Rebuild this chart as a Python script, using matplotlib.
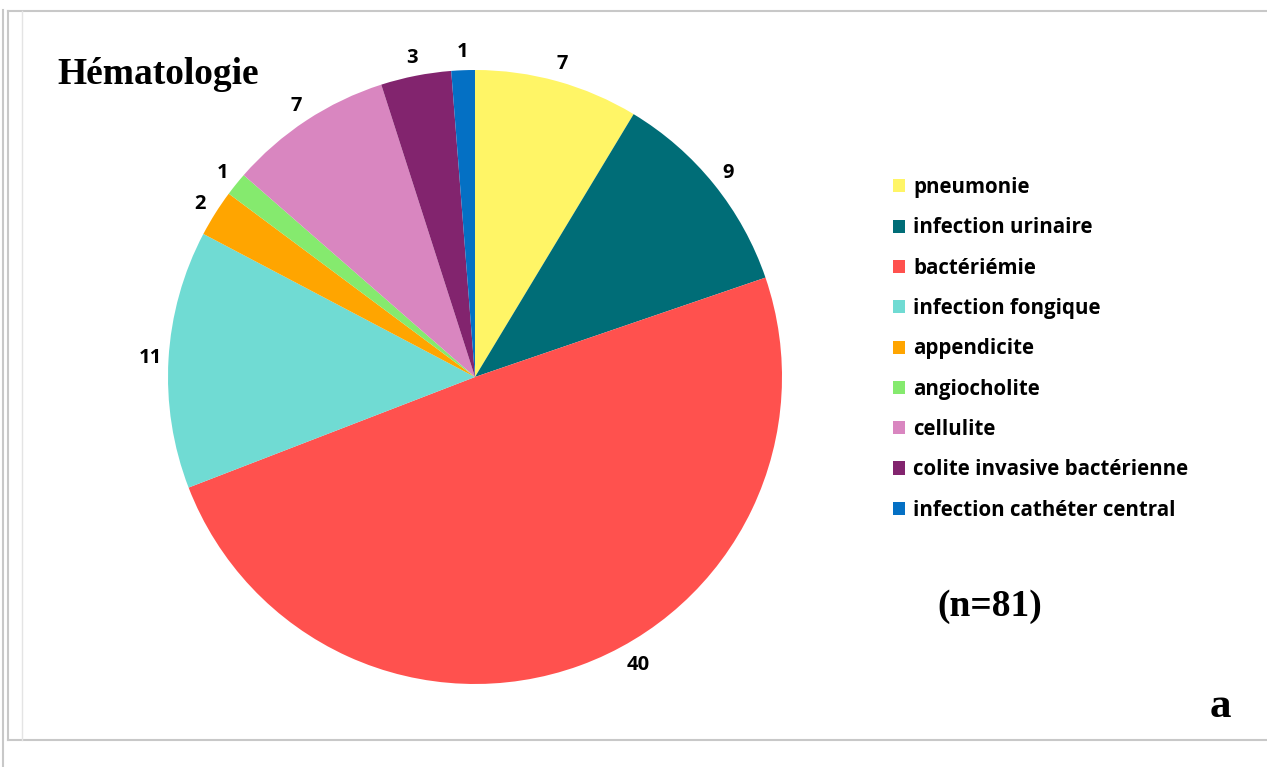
import numpy as np
import matplotlib.pyplot as plt
from matplotlib.lines import Line2D

# data
categories = ["pneumonie", "infection urinaire", "bactériémie", "infection fongique",
              "appendicite", "angiocholite", "cellulite",
              "colite invasive bactérienne", "infection cathéter central"]
counts = [7, 9, 40, 11, 2, 1, 7, 3, 1]
colors = ["#FFF566", "#006D77", "#FF514E", "#70DBD3", "#FFA500",
          "#85EA6E", "#D986C0", "#82246E", "#0470C4"]
total = sum(counts)

W, H = 1267, 767
fig = plt.figure(figsize=(W / 100, H / 100), dpi=100)

# pie axes: centre (475, 377) px, radius 307 px
cx, cy, r = 475, 377, 307
ax = fig.add_axes([(cx - r) / W, (H - cy - r) / H, 2 * r / W, 2 * r / H])
lab_r = 1.058
wedges, texts, autotexts = ax.pie(
    counts, colors=colors, startangle=90, counterclock=False,
    autopct=lambda p: f"{round(p * total / 100)}", pctdistance=lab_r,
    wedgeprops=dict(linewidth=0))
for w, t in zip(wedges, autotexts):
    t.set_fontfamily("Open Sans")
    t.set_fontweight("bold")
    t.set_fontsize(14.5)
    t.set_color("black")
# the big slice's label sits a bit nearer the right, as in the original
big = int(np.argmax(counts))
w = wedges[big]
a = np.deg2rad((w.theta1 + w.theta2) / 2 + 9.5)
autotexts[big].set_position((lab_r * 1.02 * np.cos(a), lab_r * 1.02 * np.sin(a)))

ax.set_xlim(-1, 1)
ax.set_ylim(-1, 1)
ax.axis("off")

fig.legend(wedges, categories, loc="upper left", bbox_to_anchor=(893 / W, 1 - 177 / H),
           frameon=False, borderpad=0, borderaxespad=0,
           prop=dict(family="Open Sans", weight="bold", size=14.8),
           handlelength=0.6, handleheight=0.6, handletextpad=0.38, labelspacing=0.94)

fig.text(57 / W, 1 - 75 / H, "Hématologie", family="Liberation Serif", weight="bold",
         fontsize=27, va="center", ha="left")
fig.text(937 / W, 1 - 606 / H, "(n=81)", family="Liberation Serif", weight="bold",
         fontsize=27, va="center", ha="left")
fig.text(1220 / W, 1 - 707 / H, "a", family="Liberation Serif", weight="bold",
         fontsize=31, va="center", ha="center")

# grey frame lines
grey = "#C8C8C8"
def px_line(x0, y0, x1, y1, c=grey, lw=1.5):
    fig.add_artist(Line2D([x0 / W, x1 / W], [1 - y0 / H, 1 - y1 / H], color=c, lw=lw))

px_line(3, 10, 3, 767)
px_line(8, 11, W, 11)
px_line(8, 11, 8, 740)
px_line(8, 740, W, 740)
px_line(22, 11, 22, 740, c="#E4E4E4", lw=1)

fig.savefig("out.png", dpi=100)
